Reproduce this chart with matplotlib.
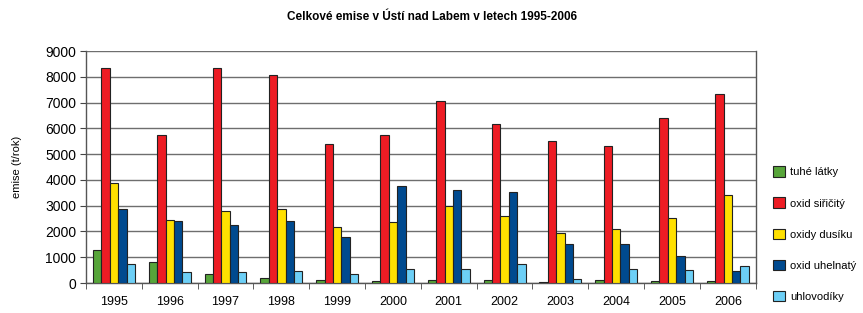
import numpy as np
import matplotlib
matplotlib.use("Agg")
import matplotlib.pyplot as plt
from matplotlib.ticker import FixedLocator, NullFormatter

plt.rcParams['font.family'] = ['Liberation Sans Narrow', 'Liberation Sans', 'DejaVu Sans']

years = ["1995", "1996", "1997", "1998", "1999", "2000",
         "2001", "2002", "2003", "2004", "2005", "2006"]

tuhe_latky = [1270, 800, 340, 180, 110, 60, 100, 100, 50, 100, 70, 70]
oxid_siricity = [8340, 5760, 8340, 8060, 5410, 5760, 7080, 6170, 5500, 5310, 6420, 7330]
oxidy_dusiku = [3900, 2430, 2790, 2860, 2160, 2380, 2980, 2600, 1930, 2100, 2520, 3400]
oxid_uhelnaty = [2880, 2400, 2270, 2390, 1780, 3760, 3600, 3550, 1520, 1520, 1030, 480]
uhlovodiky = [740, 440, 440, 460, 350, 530, 550, 750, 150, 540, 490, 670]

series = [
    ("tuhé látky", tuhe_latky, "#57a53a"),
    ("oxid siřičitý", oxid_siricity, "#ed1c24"),
    ("oxidy dusíku", oxidy_dusiku, "#ffe000"),
    ("oxid uhelnatý", oxid_uhelnaty, "#004a8f"),
    ("uhlovodíky", uhlovodiky, "#6dcff6"),
]

fig = plt.figure(figsize=(8.63, 3.13), dpi=100)
ax = fig.add_axes([0.0997, 0.0958, 0.776, 0.741])

x = np.arange(len(years))
w = 0.15
for i, (name, vals, col) in enumerate(series):
    ax.bar(x + (i - 2) * w, vals, width=w, color=col, edgecolor="#222222",
           linewidth=0.8, label=name, zorder=3)

ax.set_xlim(-0.5, len(years) - 0.5)
ax.set_ylim(0, 9000)
ax.set_yticks(np.arange(0, 9001, 1000))
ax.yaxis.grid(True, color="#6e6e6e", linewidth=1.0, zorder=0)

ax.set_xticks(x)
ax.set_xticklabels(years)
ax.xaxis.set_minor_locator(FixedLocator(np.arange(-0.5, len(years), 1.0)))
ax.xaxis.set_minor_formatter(NullFormatter())
ax.tick_params(axis="x", which="major", length=0, pad=9, labelsize=9)
ax.tick_params(axis="x", which="minor", length=4, direction="out", color="#444444")
ax.tick_params(axis="y", length=4, direction="out", color="#444444", labelsize=10, pad=3)

ax.spines["top"].set_visible(False)
for s in ["left", "bottom", "right"]:
    ax.spines[s].set_color("#555555")
    ax.spines[s].set_linewidth(1.0)

ax.set_ylabel("emise (t/rok)", fontsize=8, labelpad=17)

fig.suptitle("Celkové emise v Ústí nad Labem v letech 1995-2006",
             fontsize=8.5, fontweight="bold", y=0.965)

fig.legend(loc="center left", bbox_to_anchor=(0.896, 0.252), frameon=False,
           fontsize=8, handlelength=1.1, handleheight=1.1, handletextpad=0.4,
           labelspacing=1.8, borderaxespad=0, borderpad=0)

fig.savefig("out.png", dpi=100)
